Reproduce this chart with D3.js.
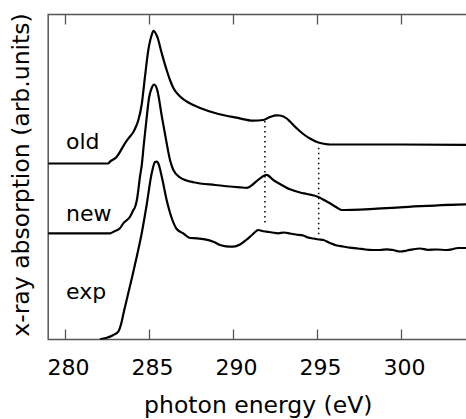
<!DOCTYPE html>
<html>
<head>
<meta charset="utf-8">
<script src="https://cdn.jsdelivr.net/npm/d3@7"></script>
<style>
  body { margin: 0; background: #fff; }
  text { font-family: "DejaVu Sans", sans-serif; fill: #000; }
</style>
</head>
<body>
<div id="chart"></div>
<script>
// spectra: [photon energy (eV), absorption (arb.units)]
const oldSpectrum = [
  [278.99, 3.52], [282.56, 3.52], [282.68, 3.556], [283.08, 3.656], [283.57, 3.924],
  [283.82, 4.04], [284.07, 4.15], [284.2, 4.24], [284.36, 4.38], [284.57, 4.71],
  [284.76, 5.256], [284.96, 5.79], [285.16, 6.09], [285.27, 6.174], [285.49, 6.056],
  [285.76, 5.724], [286.05, 5.39], [286.25, 5.19], [286.45, 5.03], [286.85, 4.86],
  [287.24, 4.76], [287.64, 4.69], [288.04, 4.63], [289.03, 4.52], [290.22, 4.436],
  [291.21, 4.376], [291.8, 4.39], [292.2, 4.45], [292.6, 4.484], [292.8, 4.48],
  [293.2, 4.42], [293.39, 4.36], [293.79, 4.224], [294.18, 4.11], [294.58, 4.02],
  [295.08, 3.94], [295.48, 3.91], [295.77, 3.9], [299.94, 3.9], [304.1, 3.89]
];
const newSpectrum = [
  [278.99, 2.124], [282.68, 2.124], [282.92, 2.16], [283.27, 2.224], [283.47, 2.324],
  [283.87, 2.456], [284.07, 2.59], [284.17, 2.65], [284.29, 2.81], [284.38, 3.03],
  [284.46, 3.25], [284.57, 3.49], [284.7, 3.93], [284.86, 4.43], [285.0, 4.83],
  [285.16, 5.03], [285.31, 5.1], [285.49, 4.99], [285.76, 4.47], [286.05, 3.93],
  [286.25, 3.59], [286.45, 3.39], [286.85, 3.24], [287.24, 3.18], [287.64, 3.146],
  [288.93, 3.09], [290.42, 3.044], [290.82, 3.034], [291.21, 3.11], [291.49, 3.19],
  [292.0, 3.294], [292.4, 3.19], [292.8, 3.11], [293.39, 3.004], [293.99, 2.94],
  [294.39, 2.91], [295.08, 2.85], [295.42, 2.79], [295.77, 2.724], [296.13, 2.65],
  [296.47, 2.59], [296.67, 2.59], [299.94, 2.644], [303.87, 2.704], [304.1, 2.705]
];
const expSpectrum = [
  [282.08, 0.004], [282.44, 0.03], [282.88, 0.09], [283.17, 0.156], [283.37, 0.35],
  [283.5, 0.55], [283.67, 0.79], [284.0, 1.256], [284.27, 1.656], [284.57, 2.13],
  [284.86, 2.69], [285.16, 3.324], [285.36, 3.55], [285.46, 3.56], [285.55, 3.524],
  [285.76, 3.256], [286.05, 2.79], [286.35, 2.43], [286.65, 2.21], [287.04, 2.124],
  [287.44, 2.03], [287.86, 2.024], [288.33, 2.004], [288.83, 1.956], [289.23, 1.89],
  [289.58, 1.864], [290.02, 1.856], [290.42, 1.9], [290.82, 2.0], [291.13, 2.09],
  [291.51, 2.19], [291.73, 2.17], [292.01, 2.156], [292.32, 2.14], [292.7, 2.124],
  [293.04, 2.14], [293.39, 2.12], [293.75, 2.1], [294.18, 2.08], [294.46, 2.04],
  [294.78, 2.02], [295.12, 2.0], [295.38, 1.99], [295.77, 1.93], [296.17, 1.88],
  [296.55, 1.86], [296.96, 1.836], [297.44, 1.82], [297.86, 1.8], [298.33, 1.79],
  [298.75, 1.79], [299.17, 1.804], [299.52, 1.79], [299.94, 1.76], [300.36, 1.78],
  [300.71, 1.804], [301.13, 1.82], [301.61, 1.794], [302.14, 1.8], [302.72, 1.79],
  [303.11, 1.81], [303.39, 1.83], [303.87, 1.83]
];
const curveNames = ["old", "new", "exp"];
const curveLabelY = [3.82, 2.38, 0.82];
// dotted guide lines: energy, from, to
const guideX = [291.9, 295.1];
const guideTop = [4.37, 3.836];
const guideBottom = [2.29, 2.09];
const xTicks = [280, 285, 290, 295, 300];

const width = 466, height = 419;
const plotLeft = 48.2, plotRight = 468.2, plotTop = 14.5, plotBottom = 339.5;

const svg = d3.select("#chart").append("svg")
  .attr("width", width).attr("height", height);

const x = d3.scaleLinear().domain([279, 304]).range([plotLeft, plotRight]);
const y = d3.scaleLinear().domain([0, 6.5]).range([plotBottom, plotTop]);

// frame
svg.append("rect")
  .attr("x", plotLeft).attr("y", plotTop)
  .attr("width", plotRight - plotLeft).attr("height", plotBottom - plotTop)
  .attr("fill", "none").attr("stroke", "#555").attr("stroke-width", 1.5);

// ticks pointing inward, bottom and top
const bottomAxis = svg.append("g")
  .attr("transform", `translate(0,${plotBottom})`)
  .call(d3.axisTop(x).tickValues(xTicks).tickSize(10).tickFormat(""));
bottomAxis.select(".domain").remove();
bottomAxis.selectAll("line").attr("stroke", "#555").attr("stroke-width", 1.3);

const topAxis = svg.append("g")
  .attr("transform", `translate(0,${plotTop})`)
  .call(d3.axisBottom(x).tickValues(xTicks).tickSize(10).tickFormat(""));
topAxis.select(".domain").remove();
topAxis.selectAll("line").attr("stroke", "#555").attr("stroke-width", 1.3);

// tick labels
svg.selectAll(".xlab")
  .data(xTicks)
  .enter().append("text")
  .attr("x", d => x(d) + 3.5).attr("y", 375)
  .attr("text-anchor", "middle")
  .attr("font-size", 22)
  .text(d => d);

svg.append("text")
  .attr("x", 258.3).attr("y", 412.7)
  .attr("text-anchor", "middle").attr("font-size", 23.5)
  .text("photon energy (eV)");

svg.append("text")
  .attr("transform", "translate(29,175) rotate(-90)")
  .attr("text-anchor", "middle").attr("font-size", 23.5)
  .text("x-ray absorption (arb.units)");

// dotted guides
svg.selectAll(".guide")
  .data(guideX)
  .enter().append("line")
  .attr("x1", d => x(d)).attr("x2", d => x(d))
  .attr("y1", (d, i) => y(guideTop[i])).attr("y2", (d, i) => y(guideBottom[i]))
  .attr("stroke", "#000").attr("stroke-width", 1.5)
  .attr("stroke-dasharray", "1.5,3.5");

const line = d3.line()
  .x(d => x(d[0])).y(d => y(d[1]))
  .curve(d3.curveMonotoneX);

svg.append("defs").append("clipPath").attr("id", "clip")
  .append("rect").attr("x", plotLeft).attr("y", plotTop)
  .attr("width", plotRight - plotLeft).attr("height", plotBottom - plotTop);

[oldSpectrum, newSpectrum, expSpectrum].forEach(s => {
  svg.append("path")
    .datum(s)
    .attr("clip-path", "url(#clip)")
    .attr("fill", "none")
    .attr("stroke", "#000")
    .attr("stroke-width", 2.2)
    .attr("stroke-linejoin", "round")
    .attr("d", line);
});

svg.selectAll(".clab")
  .data(curveNames)
  .enter().append("text")
  .attr("x", 66).attr("y", (d, i) => y(curveLabelY[i]))
  .attr("font-size", 22)
  .text(d => d);
</script>
</body>
</html>
